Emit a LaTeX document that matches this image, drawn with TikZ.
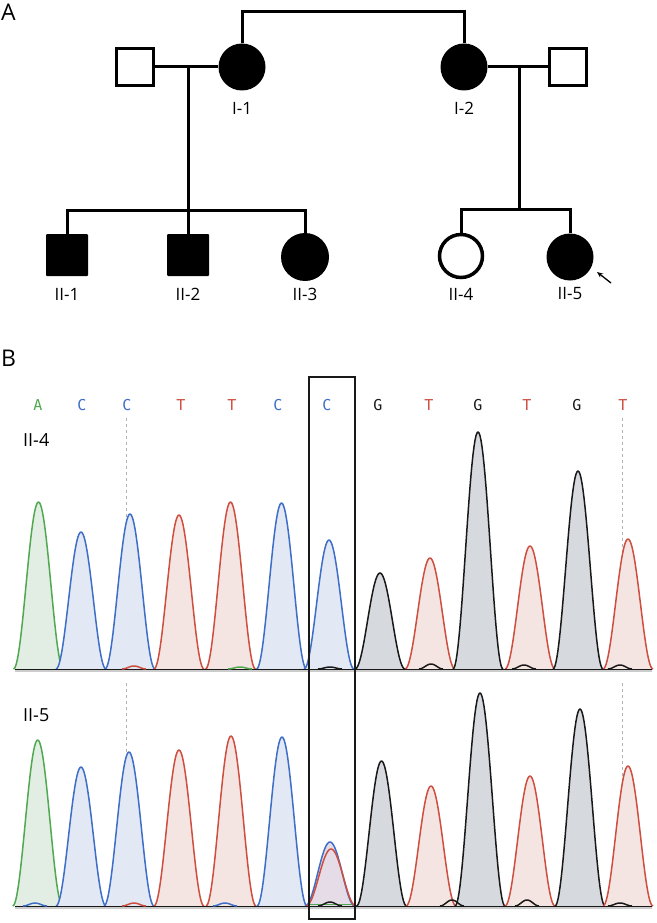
\documentclass[tikz,border=0pt]{standalone}
\usepackage{fontspec}
\setmainfont{Open Sans}
\newfontfamily\seqfont{DejaVu Sans Mono}
\usetikzlibrary{arrows.meta}
\definecolor{tgreen}{RGB}{80,168,80}
\definecolor{tblue}{RGB}{62,110,200}
\definecolor{tred}{RGB}{206,78,64}
\definecolor{tblack}{RGB}{25,25,25}
\definecolor{fgreen}{RGB}{226,238,228}
\definecolor{fblue}{RGB}{226,232,244}
\definecolor{fred}{RGB}{244,229,226}
\definecolor{fblack}{RGB}{214,217,222}
\definecolor{fmix}{RGB}{230,220,232}
\newcommand\pkw{25}
\newcommand\tpeak[5]{%
  \pgfmathsetmacro\pa{#1-\pkw}\pgfmathsetmacro\pb{#1+\pkw}%
  \fill[#5] plot[domain=\pa:\pb,samples=51] (\x,{#3-(#3-#2)*(cos(90*(\x-#1)/\pkw))^2}) -- cycle;
  \draw[#4,trace] plot[domain=\pa:\pb,samples=51] (\x,{#3-(#3-#2)*(cos(90*(\x-#1)/\pkw))^2});}
\newcommand\tline[5]{%
  \pgfmathsetmacro\pa{#1-\pkw}\pgfmathsetmacro\pb{#1+\pkw}%
  \draw[#4,trace] plot[domain=\pa:\pb,samples=51] (\x,{#3-(#3-#2)*(cos(90*(\x-#1)/\pkw))^2});}
\newcommand\tbump[4]{%
  \pgfmathsetmacro\pa{#1-12}\pgfmathsetmacro\pb{#1+12}%
  \draw[#4,trace] plot[domain=\pa:\pb,samples=25] (\x,{#3-#2*(cos(90*(\x-#1)/12))^2});}
\tikzset{
  ped/.style={line width=3pt},
  openmale/.style={draw, line width=3pt, minimum size=37pt, inner sep=0pt},
  affmale/.style={fill=black, minimum size=42pt, inner sep=0pt, rounded corners=1pt},
  afffem/.style={circle, fill=black, minimum size=47pt, inner sep=0pt},
  openfem/.style={circle, draw, line width=3.5pt, minimum size=43pt, inner sep=0pt},
  idlab/.style={font=\fontsize{17}{20}\selectfont, inner sep=0pt},
  panel/.style={font=\fontsize{23}{26}\selectfont, inner sep=0pt, anchor=north west},
  seq/.style={font=\seqfont\fontsize{15}{17}\selectfont, inner sep=0pt},
  trace/.style={line width=1.5pt, line join=round},
  guide/.style={gray!60, line width=0.8pt, dash pattern=on 3pt off 3pt},
}
\begin{document}
\begin{tikzpicture}[x=1pt,y=-1pt]
\useasboundingbox[fill=white] (0,0) rectangle (656,923);
% ---------- Panel A ----------
\node[panel] (lA) at (1,4) {A};
\node[openmale] (F1) at (135,67) {};
\node[afffem] (I1) at (242,67) {};
\node[afffem] (I2) at (464,67) {};
\node[openmale] (F2) at (568,67) {};
\node[affmale] (II1) at (67,255) {};
\node[affmale] (II2) at (188,255) {};
\node[afffem, minimum size=48pt] (II3) at (305,257) {};
\node[openfem] (II4) at (461,256) {};
\node[afffem] (II5) at (570,257) {};
\node[idlab] (tI1) at (242,108) {I-1};
\node[idlab] (tI2) at (464,108) {I-2};
\node[idlab] (tII1) at (67,294) {II-1};
\node[idlab] (tII2) at (188,294) {II-2};
\node[idlab] (tII3) at (305,294) {II-3};
\node[idlab] (tII4) at (461,294) {II-4};
\node[idlab] (tII5) at (570,294) {II-5};
\coordinate (top) at (353,12);
\coordinate (m1) at (188,67);
\coordinate (s1) at (188,210);
\coordinate (m2) at (519,67);
\coordinate (s2) at (519,209);
\draw[ped] (I1.north) |- (top) -| (I2.north);
\draw[ped] (F1.east) -- (I1.west);
\draw[ped] (I2.east) -- (F2.west);
\draw[ped] (m1) -- (s1);
\draw[ped] (II1.north) |- (s1) -| (II3.north);
\draw[ped] (II2.north) -- (s1);
\draw[ped] (m2) -- (s2);
\draw[ped] (II4.north) |- (s2) -| (II5.north);
\coordinate (arrs) at (611,283);
\coordinate (arre) at (597,272);
\draw[line width=1.3pt, -{Stealth[length=6pt,width=5pt]}] (arrs) -- (arre);
% ---------- Panel B ----------
\node[panel] (lB) at (1,350) {B};
\foreach \px/\b/\c [count=\i] in {38/A/tgreen,82/C/tblue,127/C/tblue,181/T/tred,232/T/tred,278/C/tblue,327/C/tblue,378/G/tblack,429/T/tred,478/G/tblack,527/T/tred,577/G/tblack,623/T/tred}
  \node[seq, text=\c] (b\i) at (\px,405) {\b};
\node[idlab, font=\fontsize{18}{20}\selectfont, anchor=west] (l4) at (23,440) {II-4};
\node[idlab, font=\fontsize{18}{20}\selectfont, anchor=west] (l5) at (23,715) {II-5};
% guide lines
\draw[guide] (126,418) -- (126,668);
\draw[guide] (622,418) -- (622,668);
\draw[guide] (126,683) -- (126,905);
\draw[guide] (622,683) -- (622,905);
% trace 1 (II-4), baseline 669
\draw[gray!40, line width=1.5pt] (15,671) -- (652,671);
\tpeak{38.5}{502}{669}{tgreen}{fgreen}
\tpeak{81}{532}{669}{tblue}{fblue}
\tpeak{130}{514}{669}{tblue}{fblue}
\tpeak{179}{515}{669}{tred}{fred}
\tpeak{230.5}{502}{669}{tred}{fred}
\tpeak{281.5}{503}{669}{tblue}{fblue}
\tpeak{329}{540}{669}{tblue}{fblue}
\tpeak{380}{573}{669}{tblack}{fblack}
\tpeak{430}{558}{669}{tred}{fred}
\tpeak{478}{432}{669}{tblack}{fblack}
\tpeak{530}{546}{669}{tred}{fred}
\tpeak{578}{471}{669}{tblack}{fblack}
\tpeak{628}{539}{669}{tred}{fred}
\draw[tblue, line width=1.2pt] (15,669.5) -- (652,669.5);
\draw[tblack, line width=1pt] (15,669) -- (652,669);
\tbump{134}{3}{669}{tred}
\tbump{240}{2}{669}{tgreen}
\tbump{330}{2}{669}{tblack}
\tbump{431}{5}{669}{tblack}
\tbump{524}{4}{669}{tblack}
\tbump{620}{4}{669}{tblack}
% trace 2 (II-5), baseline 906
\draw[gray!40, line width=1.5pt] (15,908) -- (652,908);
\tpeak{37.7}{740}{906}{tgreen}{fgreen}
\tpeak{81}{767}{906}{tblue}{fblue}
\tpeak{129}{752}{906}{tblue}{fblue}
\tpeak{179}{750}{906}{tred}{fred}
\tpeak{231}{736}{906}{tred}{fred}
\tpeak{282}{737}{906}{tblue}{fblue}
\tpeak{330}{842}{906}{tblue}{fmix}
\tline{331}{849}{906}{tred}{fmix}
\tpeak{381.5}{761}{906}{tblack}{fblack}
\tpeak{431}{786}{906}{tred}{fred}
\tpeak{480}{693}{906}{tblack}{fblack}
\tpeak{530}{776}{906}{tred}{fred}
\tpeak{580}{709}{906}{tblack}{fblack}
\tpeak{628}{766}{906}{tred}{fred}
\draw[tblue, line width=1.2pt] (15,906.5) -- (652,906.5);
\draw[tgreen, line width=1.2pt] (310,904.5) -- (352,904.5);
\draw[tblack, line width=1pt] (15,906) -- (652,906);
\tbump{35}{3}{906}{tblue}
\tbump{134}{3}{906}{tred}
\tbump{225}{3}{906}{tblue}
\tbump{330}{4}{906}{tblack}
\tbump{452}{6}{906}{tblack}
\tbump{527}{6}{906}{tblack}
\tbump{620}{3}{906}{tblack}
% highlight box
\node[draw=tblack, line width=2pt, minimum width=46pt, minimum height=542pt, inner sep=0pt] (hbox) at (332,648) {};
\end{tikzpicture}
\end{document}
